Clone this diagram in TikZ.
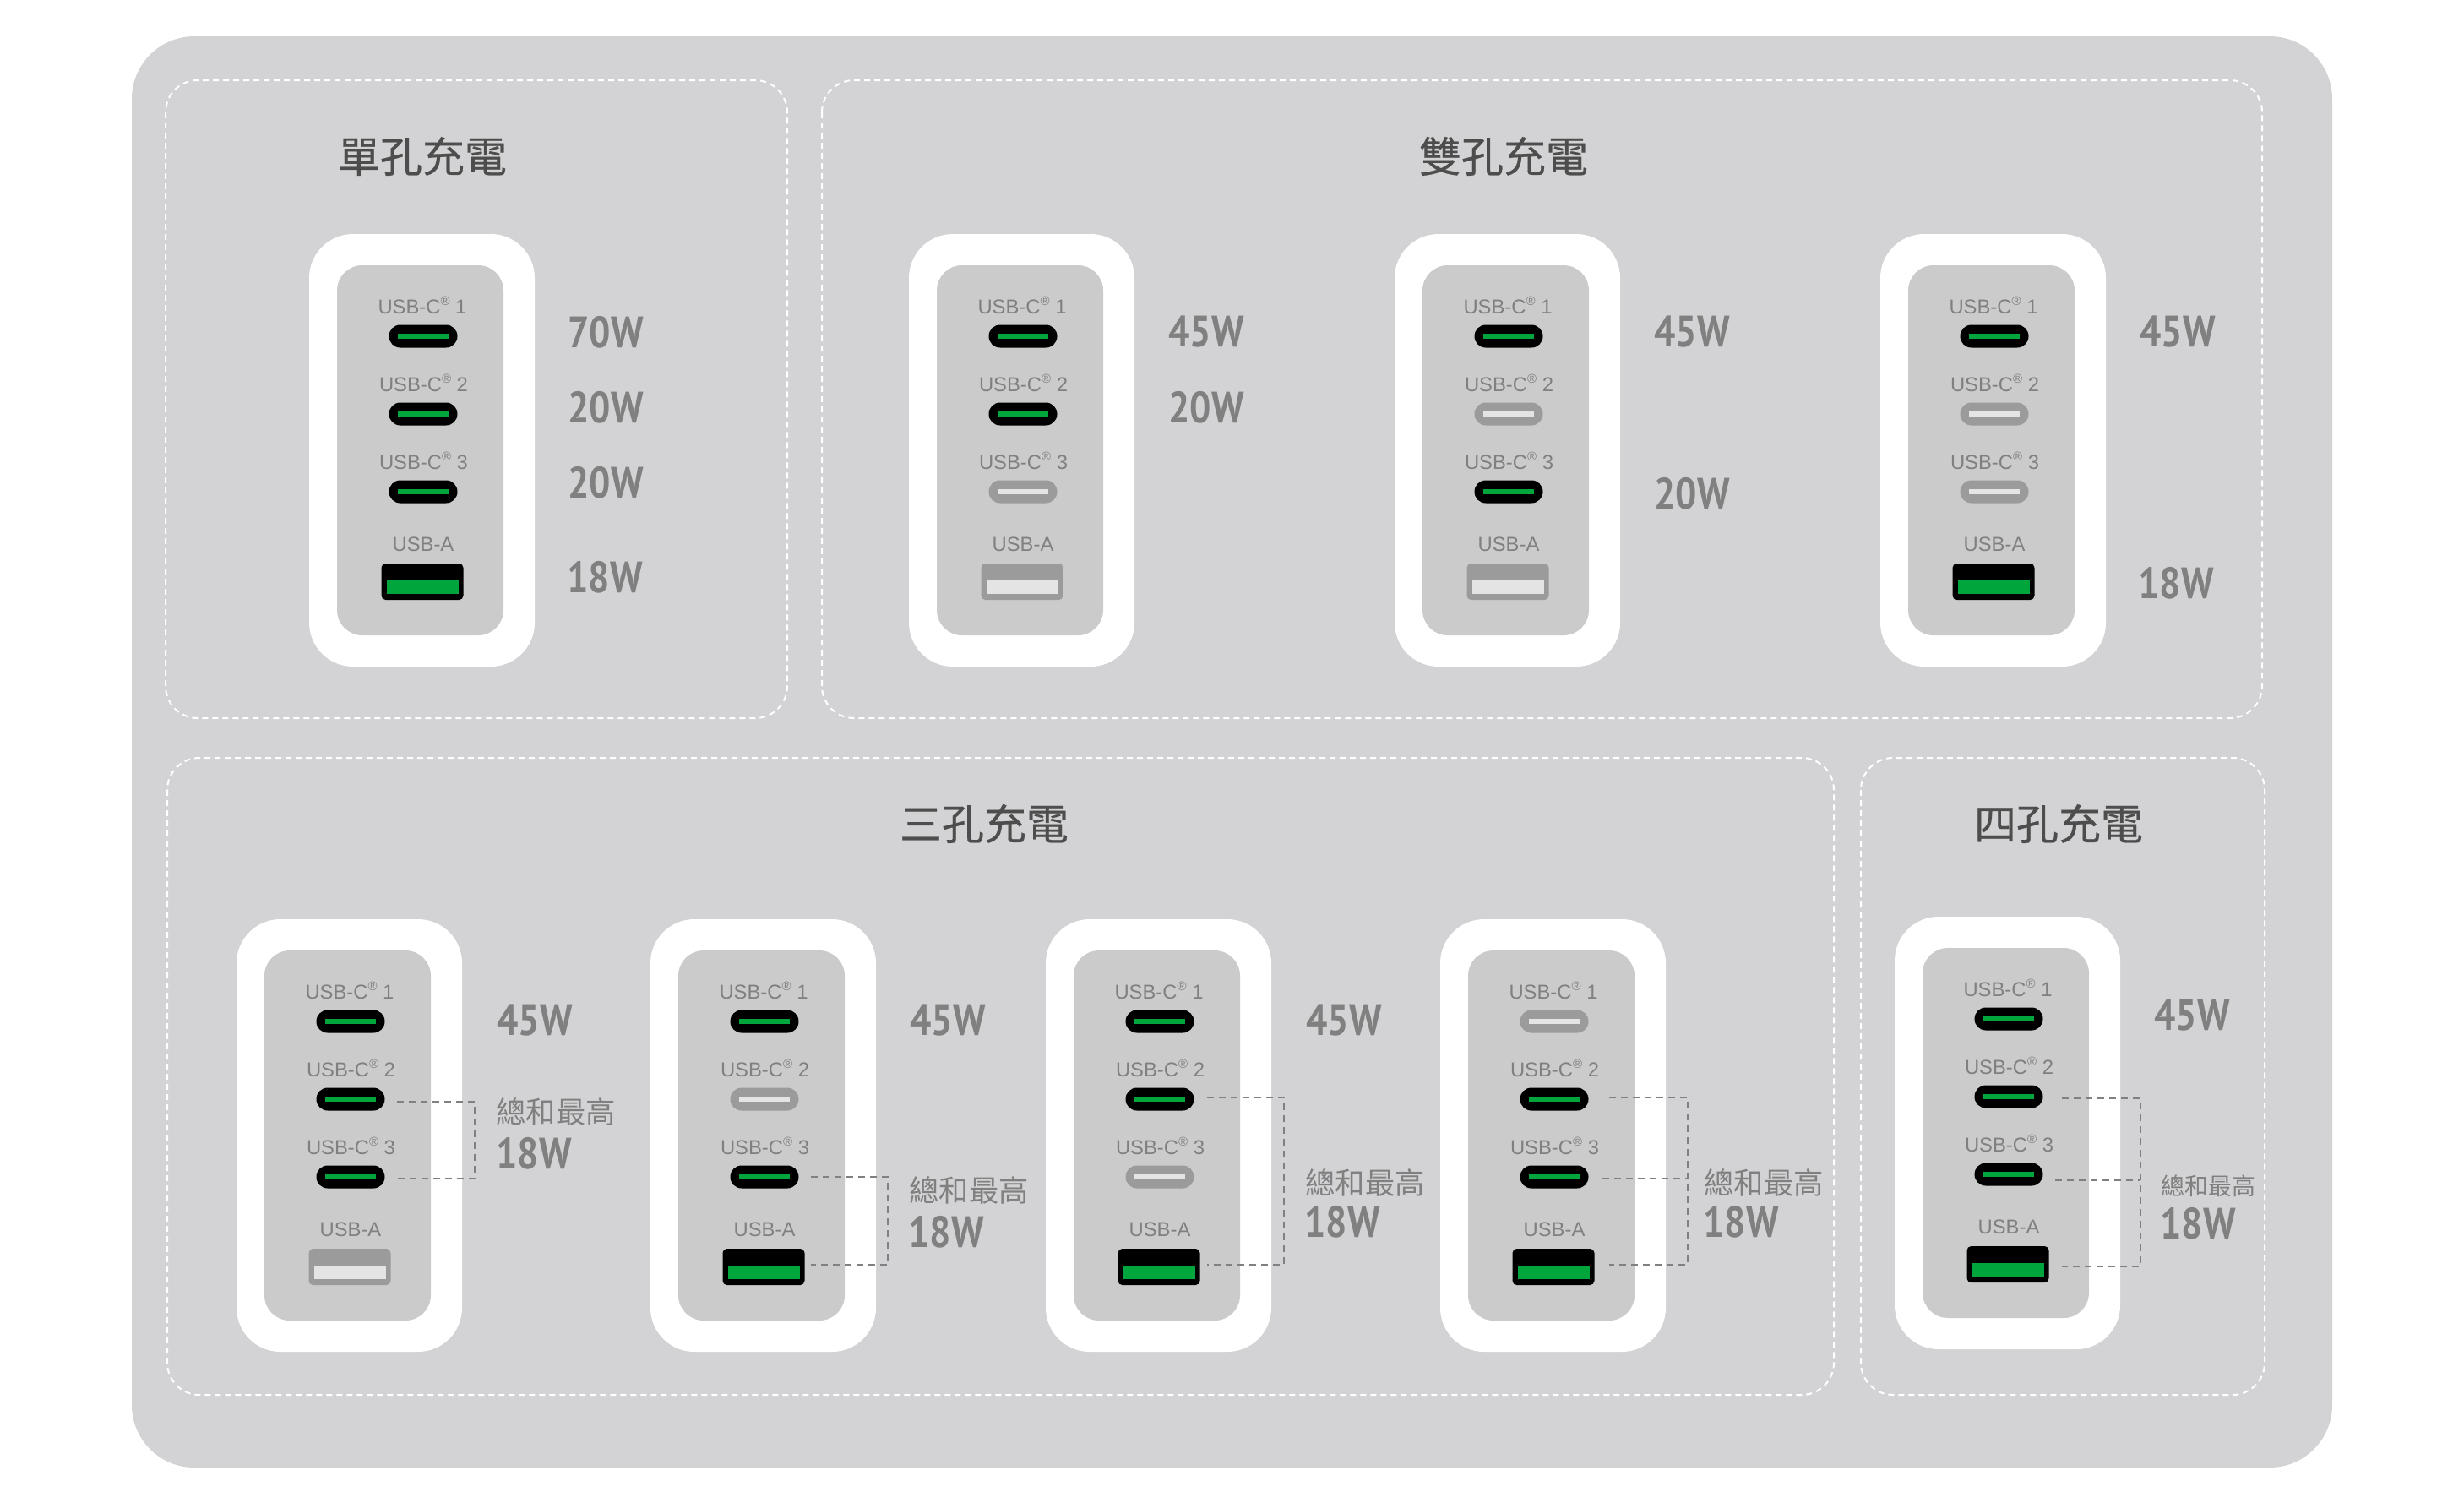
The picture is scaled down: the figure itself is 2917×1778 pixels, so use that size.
\documentclass[tikz,border=0pt]{standalone}
\usepackage{fontspec}
\setmainfont{Liberation Sans}
\newfontfamily\cjk{Noto Sans CJK TC}
\newfontfamily\cjkt[FakeBold=0.4]{Noto Sans CJK TC}
\newfontfamily\watt[FakeStretch=0.86]{PT Sans}
\definecolor{bgc}{HTML}{D3D3D5}
\definecolor{innerc}{HTML}{CBCBCB}
\definecolor{greenc}{HTML}{00A63C}
\definecolor{offport}{HTML}{9B9B9B}
\definecolor{offbar}{HTML}{E4E4E4}
\definecolor{labelc}{HTML}{808080}
\definecolor{titlec}{HTML}{4D4D4D}
\tikzset{
  x=0.5pt,y=-0.5pt,
  panel/.style={draw=white,line width=1pt,dash pattern=on 3.5pt off 2.5pt,rounded corners=19pt},
  shell/.style={fill=white,rounded corners=26pt},
  face/.style={fill=innerc,rounded corners=15pt},
  usblabel/.style={inner sep=0pt,text=labelc,font=\fontsize{11.9}{14}\selectfont},
  wattlabel/.style={anchor=west,inner sep=0pt,text=labelc,font=\watt\bfseries\fontsize{26}{28}\selectfont},
  sumlabel/.style={anchor=west,inner sep=0pt,text=labelc,font=\cjk\fontsize{17.7}{20}\selectfont},
  sumsmall/.style={anchor=west,inner sep=0pt,text=labelc,font=\cjk\fontsize{14}{16}\selectfont},
  title/.style={inner sep=0pt,text=titlec,font=\cjkt\fontsize{25}{28}\selectfont},
  cbody/.style={inner sep=0pt,minimum width=40.5pt,minimum height=13.5pt,rounded corners=6.7pt},
  con/.style={cbody,fill=black},
  coff/.style={cbody,fill=offport},
  cbaron/.style={inner sep=0pt,minimum width=30pt,minimum height=3pt,fill=greenc},
  cbaroff/.style={inner sep=0pt,minimum width=30pt,minimum height=3pt,fill=offbar},
  abody/.style={inner sep=0pt,minimum width=48.5pt,minimum height=21.5pt,rounded corners=2.5pt},
  aon/.style={abody,fill=black},
  aoff/.style={abody,fill=offport},
  abaron/.style={inner sep=0pt,minimum width=42.5pt,minimum height=8pt,fill=greenc},
  abaroff/.style={inner sep=0pt,minimum width=42.5pt,minimum height=8pt,fill=offbar},
  sumline/.style={draw=labelc,line width=0.8pt,dash pattern=on 4pt off 3pt},
}
\newcommand{\usbreg}[1]{USB-C\raisebox{0.42em}{\fontsize{7.5}{7}\selectfont ®} #1}
\newcommand{\charger}[7]{%
  \begin{scope}[shift={(#2,#3)}]
    \fill[shell] (0,0) rectangle (267,512);
    \fill[face] (33,37) rectangle (230,475);
    \node[usblabel] (#1l1) at (134,84) {\usbreg{1}};
    \node[c#4] (#1p1) at (135,121) {};
    \node[cbar#4] (#1b1) at (135,121) {};
    \node[usblabel] (#1l2) at (135.5,176) {\usbreg{2}};
    \node[c#5] (#1p2) at (135,213) {};
    \node[cbar#5] (#1b2) at (135,213) {};
    \node[usblabel] (#1l3) at (135.5,268) {\usbreg{3}};
    \node[c#6] (#1p3) at (135,305) {};
    \node[cbar#6] (#1b3) at (135,305) {};
    \node[usblabel] (#1l4) at (135,367.5) {USB-A};
    \node[a#7] (#1pa) at (134,411.5) {};
    \node[abar#7] (#1ba) at (134,417.5) {};
  \end{scope}}
\begin{document}
\begin{tikzpicture}
\useasboundingbox (0,0) rectangle (2917,1778);
\fill[bgc,rounded corners=37pt] (156,43) rectangle (2761,1737);
\draw[panel] (196,95) rectangle (932,850);
\draw[panel] (973,95) rectangle (2678,850);
\draw[panel] (198,897) rectangle (2171,1651);
\draw[panel] (2203,897) rectangle (2681,1651);
\node[title] (t1) at (500,185) {單孔充電};
\node[title] (t2) at (1780,185) {雙孔充電};
\node[title] (t3) at (1165,975) {三孔充電};
\node[title] (t4) at (2437,975) {四孔充電};
\charger{a}{366}{277}{on}{on}{on}{on}
\charger{b}{1076}{277}{on}{on}{off}{off}
\charger{c}{1651}{277}{on}{off}{on}{off}
\charger{d}{2226}{277}{on}{off}{off}{on}
\charger{e}{280}{1088}{on}{on}{on}{off}
\charger{f}{770}{1088}{on}{off}{on}{on}
\charger{g}{1238}{1088}{on}{on}{off}{on}
\charger{h}{1705}{1088}{off}{on}{on}{on}
\charger{i}{2243}{1085}{on}{on}{on}{on}
% power labels
\node[wattlabel] (w1) at (672,393) {70W};
\node[wattlabel] (w2) at (672,482) {20W};
\node[wattlabel] (w3) at (672,571) {20W};
\node[wattlabel] (w4) at (671,683) {18W};
\node[wattlabel] (w5) at (1383,393) {45W};
\node[wattlabel] (w6) at (1383,482) {20W};
\node[wattlabel] (w7) at (1958,393) {45W};
\node[wattlabel] (w8) at (1958,584) {20W};
\node[wattlabel] (w9) at (2533,393) {45W};
\node[wattlabel] (w10) at (2531,690) {18W};
\node[wattlabel] (w11) at (588,1208) {45W};
\node[sumlabel] (s1) at (587,1316) {總和最高};
\node[wattlabel] (w12) at (587,1365) {18W};
\node[wattlabel] (w13) at (1077,1208) {45W};
\node[sumlabel] (s2) at (1076,1409) {總和最高};
\node[wattlabel] (w14) at (1075,1458) {18W};
\node[wattlabel] (w15) at (1546,1208) {45W};
\node[sumlabel] (s3) at (1545,1400) {總和最高};
\node[wattlabel] (w16) at (1544,1446) {18W};
\node[sumlabel] (s4) at (2017,1400) {總和最高};
\node[wattlabel] (w17) at (2016,1446) {18W};
\node[wattlabel] (w18) at (2550,1202) {45W};
\node[sumsmall] (s5) at (2558,1404) {總和最高};
\node[wattlabel] (w19) at (2557,1448) {18W};
% sum brackets
\coordinate (e2) at (470,1304); \coordinate (e3) at (470,1395); \coordinate (ec) at (562,1304);
\draw[sumline] (e2) -- (ec) |- (e3);
\coordinate (f3) at (960,1393); \coordinate (fa) at (960,1497); \coordinate (fc) at (1051,1393);
\draw[sumline] (f3) -- (fc) |- (fa);
\coordinate (g2) at (1429,1299); \coordinate (ga) at (1429,1497); \coordinate (gc) at (1520,1299);
\draw[sumline] (g2) -- (gc) |- (ga);
\coordinate (h2) at (1905,1299); \coordinate (ha) at (1905,1497); \coordinate (hc) at (1998,1299);
\coordinate (h3) at (1897,1395); \coordinate (hm) at (1998,1395);
\draw[sumline] (h2) -- (hc) |- (ha);
\draw[sumline] (h3) -- (hm);
\coordinate (i2) at (2441,1300); \coordinate (ia) at (2441,1499); \coordinate (ic) at (2534,1300);
\coordinate (i3) at (2433,1397); \coordinate (im) at (2534,1397);
\draw[sumline] (i2) -- (ic) |- (ia);
\draw[sumline] (i3) -- (im);
\end{tikzpicture}
\end{document}
